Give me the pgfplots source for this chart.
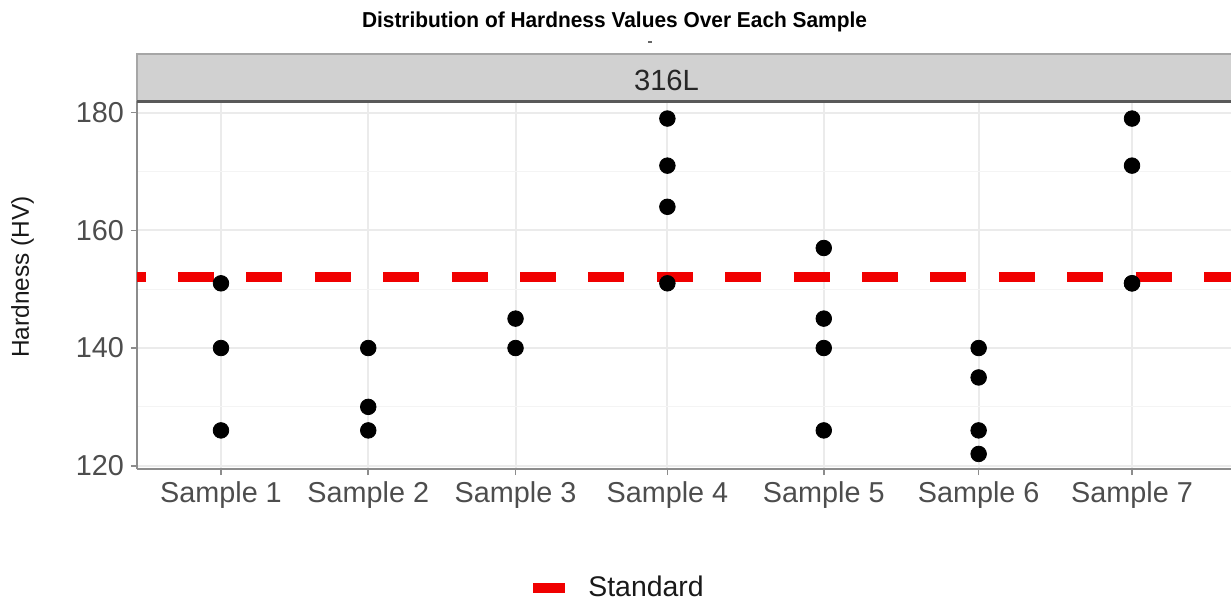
\documentclass[border=0pt]{standalone}
\usepackage{fontspec}
\setmainfont{Liberation Sans}
\usepackage{graphicx}
\usepackage{pgfplots}
\pgfplotsset{compat=1.18}

\definecolor{gridmaj}{HTML}{EBEBEB}
\definecolor{gridmin}{HTML}{F4F4F4}
\definecolor{stripfill}{HTML}{D1D1D1}
\definecolor{tickgray}{HTML}{4D4D4D}
\definecolor{axisgray}{HTML}{8C8C8C}
\definecolor{stdred}{HTML}{F00000}

\begin{document}
\begin{tikzpicture}
\useasboundingbox (0,0) rectangle (615.5pt,302.5pt);
\begin{axis}[
    at={(68.5pt,68pt)}, anchor=south west,
    width=547pt, height=183.75pt, scale only axis,
    xmin=0.447, xmax=7.652,
    ymin=119.44, ymax=181.9,
    axis lines*=left,
    axis line style={axisgray, line width=1pt},
    xtick={1,1.97,2.94,3.94,4.97,5.99,7},
    xticklabels={Sample 1,Sample 2,Sample 3,Sample 4,Sample 5,Sample 6,Sample 7},
    ytick={120,140,160,180},
    minor ytick={130,150,170},
    grid=both,
    major grid style={gridmaj, line width=1pt},
    minor grid style={gridmin, line width=0.6pt},
    tick align=outside,
    major tick length=3pt, minor tick length=0pt,
    tick style={axisgray, line width=0.8pt},
    ticklabel style={font=\fontsize{14.4}{16}\selectfont, text=tickgray},
    /pgf/number format/assume math mode=true,
    ylabel={Hardness (HV)},
    ylabel style={at={(axis description cs:-0.1047,0.522)}, anchor=center,
        font=\fontsize{12.2}{14}\selectfont, text=black!90},
    legend style={at={(axis description cs:0.3574,-0.3238)}, anchor=west,
        draw=none, fill=none, inner sep=0pt,
        font=\fontsize{14.2}{16}\selectfont, text=black!90,
        nodes={inner sep=0pt},
        /tikz/every odd column/.append style={column sep=9pt}},
    legend image code/.code={\draw[#1,solid] (0pt,0pt) -- (16pt,0pt);},
]
% standard line
\addplot[stdred, line width=5pt, dash pattern=on 18pt off 16.2pt, dash phase=13.7pt]
    coordinates {(0.447,152) (7.652,152)};
\addlegendentry{Standard}
% hardness readings
\addplot[only marks, mark=*, mark size=3.9pt, mark options={draw=black, fill=black}, forget plot]
    coordinates {
    (1,151) (1,140) (1,126)
    (1.97,140) (1.97,130) (1.97,126)
    (2.94,145) (2.94,140)
    (3.94,179) (3.94,171) (3.94,164) (3.94,151)
    (4.97,157) (4.97,145) (4.97,140) (4.97,126)
    (5.99,140) (5.99,135) (5.99,126) (5.99,122)
    (7,179) (7,171) (7,151) (7,151)
    };
\end{axis}
% facet strip
\fill[stripfill] (68.5pt,251.75pt) rectangle (615.5pt,275.5pt);
\draw[gray!70, line width=0.8pt] (68.5pt,251.75pt) -- (68.5pt,275.5pt) -- (615.5pt,275.5pt);
\draw[black!65, line width=1.2pt] (68.5pt,251.75pt) -- (615.5pt,251.75pt);
\node[text=black!85] at (333.25pt,262.5pt) {\fontsize{14.6}{16}\selectfont 316L};
% title
\node[anchor=base] at (307.25pt,288.5pt)
    {\resizebox{252.5pt}{\height}{\fontsize{10.8}{13}\selectfont\bfseries Distribution of Hardness Values Over Each Sample}};
\fill[black!60] (324.2pt,281pt) rectangle (325.8pt,282pt);
\end{tikzpicture}
\end{document}
